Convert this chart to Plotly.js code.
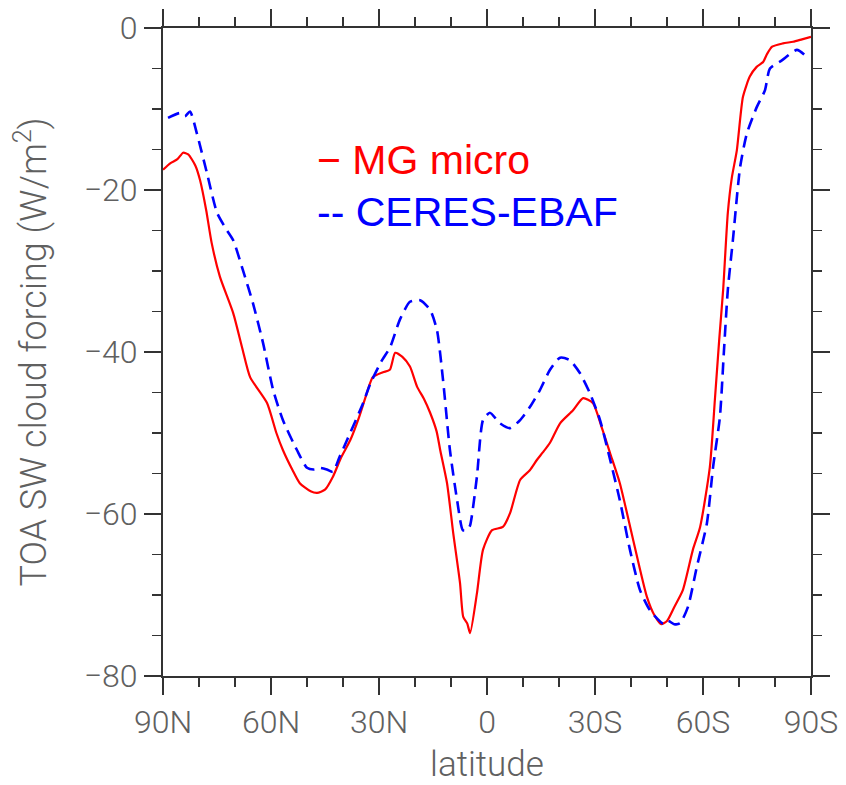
<!DOCTYPE html>
<html>
<head>
<meta charset="utf-8">
<script src="https://cdn.plot.ly/plotly-3.0.1.min.js"></script>
<style>html,body{margin:0;padding:0;background:#fff;}#chart{width:846px;height:785px;}</style>
</head>
<body>
<div id="chart"></div>
<script>
// Latitude in degrees (positive = north)
const mgLat = [90, 88, 86, 84.4, 83, 81, 79.7, 78, 76.5, 74.2, 70.5, 68, 65.8, 61.1, 58.5, 56.7, 54, 52, 49, 47.2, 45, 42.8, 40.5, 38, 35.5, 33.4, 31.7, 28.9, 27, 25.5, 23.5, 21.4, 19.4, 17.5, 15.8, 14, 13, 11.1, 9.4, 7.5, 6.6, 5.5, 4.7, 2.8, 1.1, -1.4, -4.4, -6.4, -9.2, -11.9, -13.9, -15.5, -17.5, -20.3, -23.9, -26.7, -29.4, -32, -34.2, -36.9, -40.6, -44.4, -46.5, -48.4, -50, -52, -54.4, -57.2, -59.2, -61.9, -63.3, -64.5, -65.6, -66.9, -68, -69.4, -71.1, -73, -74.9, -76.7, -77.8, -79.2, -82.2, -85, -87.5, -90];
const mgVal = [-17.5, -16.7, -16.2, -15.4, -15.6, -17, -18.8, -22.5, -26.5, -30.7, -35.2, -39.5, -43.1, -46.3, -50, -52.1, -54.6, -56.2, -57.2, -57.4, -57, -55.4, -53, -50.9, -48, -45.1, -43.1, -42.5, -42.2, -40.1, -40.6, -41.8, -44.3, -45.8, -47.5, -49.8, -52.1, -56.2, -62.3, -68.5, -72.7, -73.5, -74.7, -69.8, -64.4, -62, -61.6, -59.9, -55.8, -54.6, -53.3, -52.4, -51.2, -48.8, -47.2, -45.7, -46.3, -49.5, -52.5, -56.2, -63.2, -70.2, -72.5, -73.6, -73.2, -71.5, -69.4, -64.4, -61.6, -54.2, -45.9, -38.5, -32.3, -22.8, -18.5, -15.1, -8.5, -6, -4.8, -4.2, -3.2, -2.3, -1.9, -1.7, -1.4, -1.1];

const ceresLat = [88.6, 85.3, 83.9, 82.5, 80.6, 77.8, 75, 72.5, 70.5, 67.8, 65, 62.2, 59.4, 56.7, 52.8, 50, 48, 46.4, 44.5, 42.8, 41, 38.9, 34.4, 32.5, 29.4, 26.9, 24.2, 21.4, 18.6, 15.8, 13.9, 12.2, 10.3, 8.3, 6.7, 5.5, 4.7, 2.8, 1.1, -0.8, -3.6, -6.4, -9.2, -11.9, -14.7, -17.5, -20.3, -23, -25.8, -28.6, -31.4, -34.2, -36.9, -39.7, -42.5, -45.3, -48.9, -50, -52, -53.6, -55.8, -58.3, -61.1, -62.8, -64.7, -65.8, -66.9, -68.3, -70.3, -72.2, -74.9, -77.2, -78.6, -81.9, -86.1, -88.9];
const ceresVal = [-11.1, -10.5, -10.9, -10.3, -13, -17.9, -22.8, -24.8, -26.2, -29.9, -34, -38.9, -44.7, -48.4, -52.1, -54.3, -54.5, -54.3, -54.5, -54.8, -53, -50.9, -46.3, -44, -41.2, -39.4, -36, -33.8, -33.6, -34.8, -37.3, -43.5, -52.1, -58.3, -62, -62, -61.4, -55.4, -48.4, -47.5, -48.8, -49.4, -48.4, -46.8, -44.7, -42.2, -40.7, -41, -42.6, -45.1, -48.4, -53.3, -58.3, -64.4, -69.4, -71.9, -73.5, -73.1, -73.6, -73.5, -71.5, -66.5, -61.1, -54.2, -48, -40, -32.3, -26.2, -17.2, -13, -9.8, -7.7, -5, -4, -2.7, -3.6];

const xTickVals = [90, 60, 30, 0, -30, -60, -90];
const xTickText = ['90N', '60N', '30N', '0', '30S', '60S', '90S'];
const yTickVals = [0, -20, -40, -60, -80];
const yTickText = ['0', '\u221220', '\u221240', '\u221260', '\u221280'];

const seriesNames = ['MG micro', 'CERES-EBAF'];
const legendLabels = ['\u2212 MG micro', '-- CERES-EBAF'];

const tickFont = {family: 'Roboto, "Liberation Sans", sans-serif', size: 32, color: '#606060', weight: 300};
const titleFontX = {family: 'Roboto, "Liberation Sans", sans-serif', size: 35, color: '#606060', weight: 300};
const titleFontY = {family: 'Roboto, "Liberation Sans", sans-serif', size: 36, color: '#606060', weight: 300};

const traces = [
  {x: mgLat, y: mgVal, name: seriesNames[0], type: 'scatter', mode: 'lines',
   line: {color: '#ff0000', width: 2.2, shape: 'spline', smoothing: 0.6}},
  {x: ceresLat, y: ceresVal, name: seriesNames[1], type: 'scatter', mode: 'lines',
   line: {color: '#0000ff', width: 2.6, dash: '12px,7px', shape: 'spline', smoothing: 0.6}}
];

const axisCommon = {
  showline: true, linecolor: '#333', linewidth: 2, mirror: 'allticks',
  ticks: 'outside', ticklen: 17, tickwidth: 2, tickcolor: '#333',
  showgrid: false, zeroline: false, tickfont: tickFont
};

const layout = {
  width: 846, height: 785,
  margin: {l: 163, r: 35, t: 28, b: 109},
  paper_bgcolor: '#fff', plot_bgcolor: '#fff',
  showlegend: false,
  xaxis: Object.assign({}, axisCommon, {
    range: [90, -90], tickmode: 'array', tickvals: xTickVals, ticktext: xTickText,
    minor: {dtick: 10, tick0: 0, ticks: 'outside', ticklen: 9, tickwidth: 1.5, tickcolor: '#333', showgrid: false},
    title: {text: 'latitude', font: titleFontX, standoff: 16}
  }),
  yaxis: Object.assign({}, axisCommon, {
    range: [-80, 0], tickmode: 'array', tickvals: yTickVals, ticktext: yTickText,
    minor: {dtick: 5, tick0: 0, ticks: 'outside', ticklen: 9, tickwidth: 1.5, tickcolor: '#333', showgrid: false},
    title: {text: 'TOA SW cloud forcing (W/m<sup>2</sup>)', font: titleFontY, standoff: 26}
  }),
  annotations: [
    {xref: 'paper', yref: 'paper', x: 0.2346, y: 0.796, xanchor: 'left', yanchor: 'middle',
     text: legendLabels[0], showarrow: false,
     font: {family: '"Liberation Sans", Arial, sans-serif', size: 41, color: '#ff0000'}},
    {xref: 'paper', yref: 'paper', x: 0.2346, y: 0.716, xanchor: 'left', yanchor: 'middle',
     text: legendLabels[1], showarrow: false,
     font: {family: '"Liberation Sans", Arial, sans-serif', size: 41, color: '#0000ff'}}
  ]
};

Plotly.newPlot('chart', traces, layout, {displayModeBar: false, staticPlot: true});
</script>
</body>
</html>
